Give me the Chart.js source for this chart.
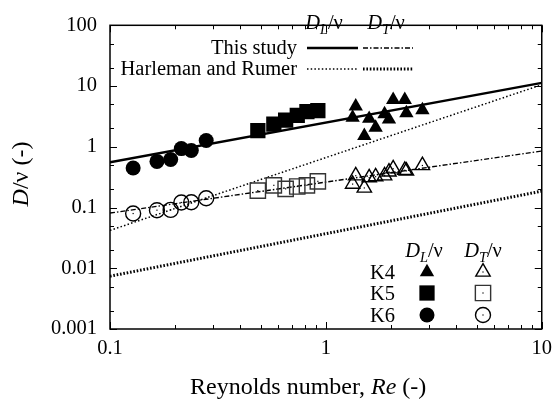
<!DOCTYPE html>
<html>
<head>
<meta charset="utf-8">
<script src="https://cdn.jsdelivr.net/npm/chart.js@4.4.0/dist/chart.umd.min.js"></script>
<style>
  html, body { margin: 0; padding: 0; background: #fff; }
  #wrap { width: 559px; height: 402px; }
</style>
</head>
<body>
<div id="wrap"><canvas id="dispersion"></canvas></div>
<script>
// Reynolds number and dispersion coefficients (D/nu) for each run
const k4Re = [1.33, 1.375, 1.507, 1.587, 1.70, 1.87, 1.96, 2.05, 2.32, 2.36, 2.80];
const k4DL = [3.03, 4.65, 1.52, 2.90, 2.07, 3.45, 2.82, 5.95, 5.95, 3.58, 4.02];
const k4DT = [0.243, 0.334, 0.210, 0.310, 0.322, 0.334, 0.386, 0.435, 0.411, 0.401, 0.492];

const k5Re = [0.484, 0.574, 0.651, 0.737, 0.817, 0.918];
const k5DL = [1.84, 2.37, 2.74, 3.29, 3.80, 3.95];
const k5DT = [0.190, 0.232, 0.203, 0.222, 0.232, 0.270];

const k6Re = [0.128, 0.165, 0.191, 0.214, 0.238, 0.279];
const k6DL = [0.447, 0.575, 0.619, 0.933, 0.867, 1.27];
const k6DT = [0.0796, 0.0904, 0.0914, 0.121, 0.122, 0.142];

// fitted relations, end points at Re = 0.1 and Re = 10
const fitRe = [0.1, 10];
const studyDL = [0.556, 11.3];
const studyDT = [0.081, 0.85];
const harlemanDL = [0.042, 10.5];
const harlemanDT = [0.0074, 0.186];

const xMajor = [0.1, 1, 10];
const xTickLabels = ['0.1', '1', '10'];
const yMajor = [0.001, 0.01, 0.1, 1, 10, 100];
const yTickLabels = ['0.001', '0.01', '0.1', '1', '10', '100'];
const xMinorSteps = [2, 3, 4, 5, 6, 7, 8, 9];
const yMinorSteps = [2, 5];

const serif = '"Liberation Serif", "Times New Roman", serif';
const pts = (xs, ys) => xs.map((x, i) => ({ x, y: ys[i] }));

function fitLine(label, ys, width, dash) {
  return {
    label, data: pts(fitRe, ys), showLine: true, pointRadius: 0,
    borderColor: '#000', borderWidth: width, borderDash: dash, order: 2
  };
}

function markers(label, xs, ys, style, radius, filled, edge) {
  return {
    label, data: pts(xs, ys), showLine: false,
    pointStyle: style, pointRadius: radius, pointHoverRadius: radius,
    backgroundColor: filled ? '#000' : 'rgba(0,0,0,0)',
    borderColor: edge || '#000', borderWidth: filled ? 0 : 1.4,
    centerDot: !filled, order: 1
  };
}

const datasets = [
  fitLine('study DL', studyDL, 2.4, []),
  fitLine('study DT', studyDT, 1.4, [5, 2, 1.5, 2]),
  fitLine('harleman DL', harlemanDL, 1.5, [1.5, 2.2]),
  fitLine('harleman DT', harlemanDT, 3, [1.6, 1.8]),
  markers('K4 DL', k4Re, k4DL, 'triangle', 8.3, true),
  markers('K4 DT', k4Re, k4DT, 'triangle', 8.3, false),
  markers('K5 DL', k5Re, k5DL, 'rect', 10.8, true),
  markers('K5 DT', k5Re, k5DT, 'rect', 10.8, false, '#333'),
  markers('K6 DL', k6Re, k6DL, 'circle', 7.5, true),
  markers('K6 DT', k6Re, k6DT, 'circle', 7.5, false)
];
const byLabel = name => datasets.find(d => d.label === name);

function logTicks(majors, steps) {
  const out = [];
  majors.forEach((m, i) => {
    out.push({ value: m, major: true });
    if (i < majors.length - 1) steps.forEach(s => out.push({ value: m * s, major: false }));
  });
  return out;
}

// draws a run of text pieces (plain, italic, subscript) starting at x
function textRun(ctx, pieces, x, y, size, align) {
  const fontOf = p => (p.it ? 'italic ' : '') + (p.sub ? size * 0.7 : size) + 'px ' + serif;
  let total = 0;
  pieces.forEach(p => { ctx.font = fontOf(p); total += ctx.measureText(p.t).width; });
  let cx = align === 'center' ? x - total / 2 : align === 'right' ? x - total : x;
  ctx.textAlign = 'left';
  ctx.textBaseline = 'alphabetic';
  pieces.forEach(p => {
    ctx.font = fontOf(p);
    ctx.fillText(p.t, cx, y + (p.sub ? size * 0.22 : 0));
    cx += ctx.measureText(p.t).width;
  });
}

const dOverNu = sub => [{ t: 'D', it: true }, { t: sub, it: true, sub: true }, { t: '/ν' }];

const decorations = {
  id: 'decorations',
  afterDatasetsDraw(chart) {
    const { ctx, chartArea: a, scales } = chart;
    ctx.save();
    ctx.fillStyle = '#000';
    ctx.strokeStyle = '#000';

    // small dot in the middle of every open marker
    chart.data.datasets.forEach((ds, i) => {
      if (!ds.centerDot) return;
      chart.getDatasetMeta(i).data.forEach(p => ctx.fillRect(p.x - 0.6, p.y - 0.6, 1.2, 1.2));
    });

    // inward tick marks on all four sides
    ctx.lineWidth = 1;
    const seg = (x1, y1, x2, y2) => { ctx.beginPath(); ctx.moveTo(x1, y1); ctx.lineTo(x2, y2); ctx.stroke(); };
    scales.x.ticks.forEach(t => {
      const px = Math.round(scales.x.getPixelForValue(t.value)) + 0.5;
      const len = t.major ? 7 : 4;
      seg(px, a.bottom, px, a.bottom - len);
      seg(px, a.top, px, a.top + len);
    });
    scales.y.ticks.forEach(t => {
      const py = Math.round(scales.y.getPixelForValue(t.value)) + 0.5;
      const len = t.major ? 7 : 4;
      seg(a.left, py, a.left + len, py);
      seg(a.right, py, a.right - len, py);
    });
    ctx.lineWidth = 1.5;
    ctx.strokeRect(a.left, a.top, a.right - a.left, a.bottom - a.top);

    // axis titles
    textRun(ctx, [{ t: 'Reynolds number, ' }, { t: 'Re', it: true }, { t: ' (-)' }], 190, 394, 24, 'left');
    ctx.save();
    ctx.translate(28, 174);
    ctx.rotate(-Math.PI / 2);
    textRun(ctx, [{ t: 'D', it: true }, { t: '/ν (-)' }], 0, 0, 24, 'center');
    ctx.restore();

    // key for the fitted relations
    textRun(ctx, dOverNu('L'), 324, 29, 20.5, 'center');
    textRun(ctx, dOverNu('T'), 386, 29, 20.5, 'center');
    const lineRows = [
      { name: 'This study', sets: ['study DL', 'study DT'], y: 48 },
      { name: 'Harleman and Rumer', sets: ['harleman DL', 'harleman DT'], y: 69 }
    ];
    const lineCols = [[307, 358], [363, 413]];
    lineRows.forEach(row => {
      textRun(ctx, [{ t: row.name }], 297, row.y + 6, 20.5, 'right');
      row.sets.forEach((name, j) => {
        const ds = byLabel(name);
        ctx.save();
        ctx.lineWidth = ds.borderWidth;
        ctx.setLineDash(ds.borderDash);
        seg(lineCols[j][0], row.y, lineCols[j][1], row.y);
        ctx.restore();
      });
    });

    // key for the measured runs
    textRun(ctx, dOverNu('L'), 424, 257, 20.5, 'center');
    textRun(ctx, dOverNu('T'), 483, 257, 20.5, 'center');
    const runRows = [['K4', 272], ['K5', 293], ['K6', 315]];
    runRows.forEach(([name, y]) => {
      textRun(ctx, [{ t: name }], 395, y + 7, 20.5, 'right');
      [[name + ' DL', 427], [name + ' DT', 483]].forEach(([label, x]) => {
        const ds = byLabel(label);
        ctx.save();
        ctx.fillStyle = ds.backgroundColor;
        ctx.strokeStyle = ds.borderColor;
        ctx.lineWidth = ds.borderWidth;
        Chart.helpers.drawPoint(ctx, {
          pointStyle: ds.pointStyle, radius: ds.pointRadius, borderWidth: ds.borderWidth, rotation: 0
        }, x, y);
        ctx.restore();
        if (ds.centerDot) ctx.fillRect(x - 0.6, y - 0.6, 1.2, 1.2);
      });
    });
    ctx.restore();
  }
};

new Chart(document.getElementById('dispersion'), {
  type: 'scatter',
  data: { datasets },
  options: {
    responsive: true,
    maintainAspectRatio: false,
    animation: false,
    events: [],
    layout: { padding: { top: 12, right: 15, left: 0, bottom: 0 } },
    plugins: { legend: { display: false }, tooltip: { enabled: false } },
    scales: {
      x: {
        type: 'logarithmic', min: 0.1, max: 10,
        grid: { display: false, drawTicks: false },
        border: { display: false },
        afterBuildTicks: s => { s.ticks = logTicks(xMajor, xMinorSteps); },
        afterFit: s => { s.height = 73; },
        ticks: {
          autoSkip: false, maxRotation: 0, padding: 7, color: '#000',
          font: { family: serif, size: 20.5 },
          callback: v => { const i = xMajor.indexOf(v); return i < 0 ? '' : xTickLabels[i]; }
        }
      },
      y: {
        type: 'logarithmic', min: 0.001, max: 100,
        grid: { display: false, drawTicks: false },
        border: { display: false },
        afterBuildTicks: s => { s.ticks = logTicks(yMajor, yMinorSteps); },
        afterFit: s => { s.width = 110; },
        ticks: {
          autoSkip: false, padding: 13, color: '#000',
          font: { family: serif, size: 20.5 },
          callback: v => { const i = yMajor.indexOf(v); return i < 0 ? '' : yTickLabels[i]; }
        }
      }
    }
  },
  plugins: [decorations]
});
</script>
</body>
</html>
